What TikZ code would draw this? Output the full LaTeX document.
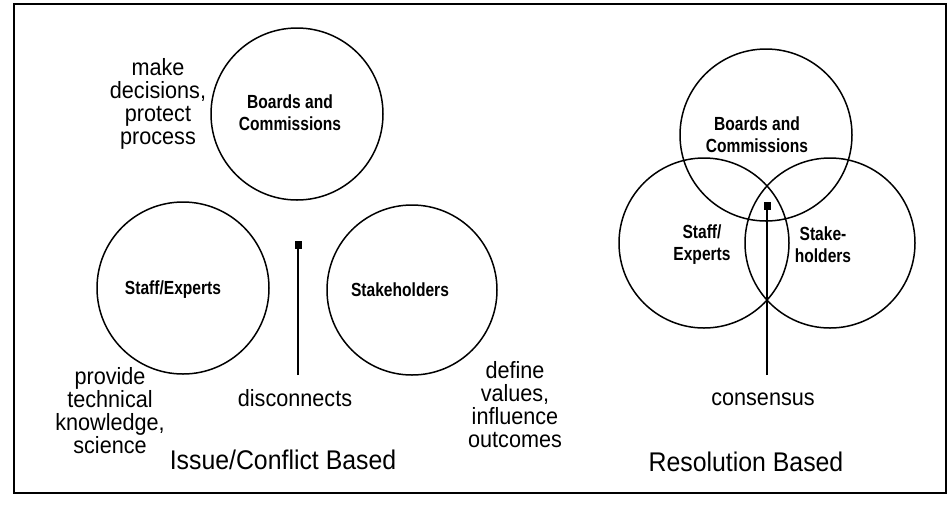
\documentclass[tikz,border=0pt]{standalone}
\usepackage{fontspec}
\setmainfont{Liberation Sans}
\newfontfamily\bodyf[FakeStretch=0.92]{Liberation Sans}
\newfontfamily\titlef[FakeStretch=0.92]{Liberation Sans}
\newfontfamily\labelf[FakeStretch=0.82]{Liberation Sans Bold}
\begin{document}
\begin{tikzpicture}[x=1pt,y=-1pt,
  ring/.style={circle,draw,line width=1.5pt,minimum size=#1,inner sep=0pt},
  lbl/.style={font=\labelf\fontsize{19}{22}\selectfont,align=center,inner sep=0pt},
  note/.style={font=\bodyf\fontsize{23.5}{23}\selectfont,align=center,inner sep=0pt},
  ttl/.style={font=\titlef\fontsize{27}{30}\selectfont,inner sep=0pt},
  sq/.style={fill,minimum width=7pt,minimum height=8pt,inner sep=0pt},
  conn/.style={line width=2pt}]
\useasboundingbox (0,0) rectangle (948,523);
\draw[line width=2pt] (14,4) rectangle (946,493);

% left panel
\node[ring=172pt] (lbc) at (297,114) {};
\node[ring=172pt] (lse) at (183,288) {};
\node[ring=170pt] (lsh) at (412,290) {};
\node[lbl] (lbct) at (290,113) {Boards and\\Commissions};
\node[lbl] (lset) at (173,290) {Staff/Experts};
\node[lbl] (lsht) at (400,290) {Stakeholders};
\node[sq] (dsq) at (298,245) {};
\coordinate (dbot) at (298,375);
\draw[conn] (dbot) -- (dsq.south);
\node[note] (disc) at (295,398) {disconnects};
\node[note] (make) at (158,104) {make\\decisions,\\protect\\process};
\node[note] (prov) at (110,411) {provide\\technical\\knowledge,\\science};
\node[note] (defn) at (515,405) {define\\values,\\influence\\outcomes};
\node[ttl] (issue) at (283,460) {Issue/Conflict Based};

% right panel
\node[ring=172pt] (rbc) at (766,135) {};
\node[ring=170pt] (rse) at (704,243) {};
\node[ring=170pt] (rsh) at (830,243) {};
\node[lbl] (rbct) at (757,135) {Boards and\\Commissions};
\node[lbl] (rset) at (702,245) {Staff/\\Experts};
\node[lbl] (rsht) at (823,245) {Stake-\\holders};
\node[sq] (csq) at (767,206) {};
\coordinate (cbot) at (767,375);
\draw[conn] (cbot) -- (csq.south);
\node[note] (cons) at (763,399) {consensus};
\node[ttl] (reso) at (746,462) {Resolution Based};
\end{tikzpicture}
\end{document}
